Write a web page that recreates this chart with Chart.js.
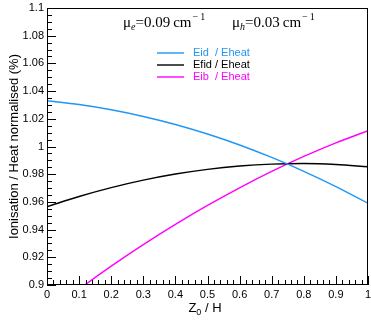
<!DOCTYPE html>
<html>
<head>
<meta charset="utf-8">
<script src="https://cdn.jsdelivr.net/npm/chart.js@4"></script>
<style>
  html, body { margin: 0; padding: 0; background: #fff; }
  #wrap { width: 371px; height: 321px; }
</style>
</head>
<body>
<div id="wrap"><canvas id="chart" width="371" height="321"></canvas></div>
<script>
// Z0/H positions
const zPos = [0, 0.1, 0.2, 0.3, 0.4, 0.5, 0.6, 0.7, 0.8, 0.9, 1.0];
// ratios
const eid = [1.0330, 1.0303, 1.0265, 1.0217, 1.0159, 1.0090, 1.0011, 0.9921, 0.9821, 0.9711, 0.9590];
const efid = [0.9565, 0.9639, 0.9703, 0.9757, 0.9801, 0.9835, 0.9859, 0.9873, 0.9877, 0.9870, 0.9854];
const eib = [0.8794, 0.8970, 0.9136, 0.9292, 0.9438, 0.9575, 0.9702, 0.9820, 0.9928, 1.0026, 1.0114];

const seriesNames = ['Eid  / Eheat', 'Efid / Eheat', 'Eib  / Eheat'];
const seriesColors = ['#2196f3', '#000000', '#ff00ff'];

const yTitle = 'Ionisation / Heat normalised (%)';

Chart.defaults.font.family = 'Liberation Sans, Arial, sans-serif';
Chart.defaults.color = '#000';

function toPoints(vals) {
    return zPos.map((x, i) => ({ x: x, y: vals[i] }));
}

// frame, inward ticks, titles, legend and formula
const rootStyle = {
    id: 'rootStyle',
    afterDraw(chart) {
        const ctx = chart.ctx;
        const a = chart.chartArea;
        const xs = chart.scales.x;
        const ys = chart.scales.y;
        ctx.save();
        ctx.strokeStyle = '#000';
        ctx.lineWidth = 1;
        ctx.strokeRect(Math.round(a.left) + 0.5, Math.round(a.top) + 0.5,
            Math.round(a.right - a.left) - 1, Math.round(a.bottom - a.top) - 1);

        ctx.beginPath();
        for (let i = 0; i <= 40; i++) {
            const py = Math.round(ys.getPixelForValue(0.9 + i * 0.005)) + 0.5;
            const len = i % 4 === 0 ? 9 : 5;
            ctx.moveTo(a.left, py);
            ctx.lineTo(a.left + len, py);
        }
        for (let i = 0; i <= 50; i++) {
            const px = Math.round(xs.getPixelForValue(i * 0.02)) + 0.5;
            const len = i % 5 === 0 ? 9 : 5;
            ctx.moveTo(px, a.bottom);
            ctx.lineTo(px, a.bottom - len);
        }
        ctx.stroke();

        // y title
        ctx.fillStyle = '#000';
        ctx.font = '13px Liberation Sans';
        ctx.translate(18, (a.top + a.bottom) / 2);
        ctx.rotate(-Math.PI / 2);
        ctx.textAlign = 'center';
        ctx.textBaseline = 'alphabetic';
        ctx.fillText(yTitle, 0, 0);
        ctx.setTransform(1, 0, 0, 1, 0, 0);

        // x title  Z0 / H
        ctx.textAlign = 'left';
        ctx.font = '13px Liberation Sans';
        const wZ = ctx.measureText('Z').width;
        const wRest = ctx.measureText(' / H').width;
        ctx.font = '9px Liberation Sans';
        const wSub = ctx.measureText('0').width;
        let tx = 205 - (wZ + wSub + wRest) / 2;
        const ty = 312;
        ctx.font = '13px Liberation Sans';
        ctx.fillText('Z', tx, ty);
        tx += wZ;
        ctx.font = '9px Liberation Sans';
        ctx.fillText('0', tx, ty + 3);
        tx += wSub;
        ctx.font = '13px Liberation Sans';
        ctx.fillText(' / H', tx, ty);

        // formula
        function mu(x0, sub, val) {
            let x = x0;
            const by = 27;
            ctx.font = '15px Liberation Serif';
            ctx.fillText('\u03bc', x, by);
            x += ctx.measureText('\u03bc').width;
            ctx.font = 'italic 10px Liberation Serif';
            ctx.fillText(sub, x, by + 3);
            x += ctx.measureText(sub).width;
            ctx.font = '15px Liberation Serif';
            const s = '=' + val + '\u2009cm';
            ctx.fillText(s, x, by);
            x += ctx.measureText(s).width + 1;
            ctx.font = '10px Liberation Serif';
            ctx.fillText('\u2212\u20091', x, by - 7);
        }
        mu(123, 'e', '0.09');
        mu(232, 'h', '0.03');

        // legend
        ctx.font = '11px Liberation Sans';
        ctx.textBaseline = 'middle';
        for (let i = 0; i < seriesNames.length; i++) {
            const ly = 53 + i * 12;
            ctx.strokeStyle = seriesColors[i];
            ctx.lineWidth = 1.4;
            ctx.beginPath();
            ctx.moveTo(157, ly);
            ctx.lineTo(184, ly);
            ctx.stroke();
            ctx.fillStyle = seriesColors[i];
            ctx.fillText(seriesNames[i], 193, ly);
        }
        ctx.restore();
    }
};

new Chart(document.getElementById('chart'), {
    type: 'line',
    data: {
        datasets: [eid, efid, eib].map((vals, i) => ({
            label: seriesNames[i],
            data: toPoints(vals),
            borderColor: seriesColors[i],
            borderWidth: 1.4,
            pointRadius: 0,
            fill: false,
            cubicInterpolationMode: 'monotone'
        }))
    },
    options: {
        responsive: false,
        animation: false,
        layout: { padding: { top: 8, right: 3, left: 0, bottom: 0 } },
        plugins: { legend: { display: false }, tooltip: { enabled: false } },
        scales: {
            x: {
                type: 'linear',
                min: 0,
                max: 1,
                grid: { display: false, drawTicks: false },
                border: { display: false },
                ticks: {
                    stepSize: 0.1,
                    autoSkip: false,
                    maxRotation: 0,
                    padding: 3,
                    font: { size: 11 },
                    callback: v => String(+v.toFixed(2))
                },
                afterFit: s => { s.height = 36; s.paddingLeft = 0; s.paddingRight = 0; }
            },
            y: {
                min: 0.9,
                max: 1.1,
                grid: { display: false, drawTicks: false },
                border: { display: false },
                ticks: {
                    stepSize: 0.02,
                    autoSkip: false,
                    padding: 3,
                    font: { size: 11 },
                    callback: v => String(+v.toFixed(2))
                },
                afterFit: s => { s.width = 47; s.paddingTop = 0; s.paddingBottom = 0; }
            }
        }
    },
    plugins: [rootStyle]
});
</script>
</body>
</html>
